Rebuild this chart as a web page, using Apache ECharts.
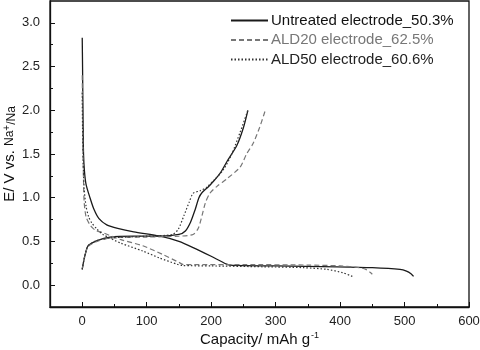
<!DOCTYPE html>
<html>
<head>
<meta charset="utf-8">
<script src="https://cdn.jsdelivr.net/npm/echarts@6/dist/echarts.min.js"></script>
<style>html,body{margin:0;padding:0;background:#fff}#c{width:480px;height:350px}</style>
</head>
<body>
<div id="c"></div>
<script>
var seriesNames = ['Untreated electrode_50.3%', 'ALD20 electrode_62.5%', 'ALD50 electrode_60.6%'];
var xTickLabels = [0, 100, 200, 300, 400, 500, 600];
var xMinorTicks = [50, 150, 250, 350, 450, 550];
var yTickLabels = [0, 0.5, 1.0, 1.5, 2.0, 2.5, 3.0];
var yMinorTicks = [0.25, 0.75, 1.25, 1.75, 2.25, 2.75];

var untreatedDischarge = [[0,2.83],[0.5,2.5],[1,2.1],[1.5,1.8],[2,1.5],[3.5,1.3],[6,1.15],[12,1.0],[18,0.87],[26,0.76],[38,0.69],[55,0.65],[80,0.61],[121,0.56],[150,0.5],[172,0.43],[200,0.33],[224,0.24],[234,0.225],[300,0.22],[395,0.21],[450,0.2],[493,0.18],[503,0.16],[510,0.13],[514,0.1]];
var untreatedCharge = [[0,0.18],[3,0.3],[9,0.45],[23,0.51],[43,0.55],[80,0.56],[121,0.56],[150,0.58],[160,0.62],[168,0.72],[175,0.86],[181,1.0],[186,1.06],[195,1.12],[205,1.2],[214,1.28],[225,1.42],[240,1.6],[250,1.8],[257,2.0]];
var ald20Discharge = [[0,2.4],[0.5,2.0],[1,1.6],[2,1.2],[3,0.95],[6,0.78],[12,0.69],[20,0.63],[32,0.6],[60,0.52],[94,0.45],[125,0.35],[150,0.26],[157,0.235],[170,0.235],[250,0.235],[350,0.23],[400,0.22],[430,0.2],[440,0.18],[446,0.15],[450,0.125]];
var ald20Charge = [[0,0.18],[3,0.3],[9,0.44],[23,0.5],[43,0.54],[100,0.55],[150,0.56],[172,0.58],[180,0.65],[186,0.8],[191,0.94],[198,1.05],[209,1.13],[225,1.22],[245,1.35],[255,1.5],[265,1.62],[275,1.8],[284,2.0]];
var ald50Discharge = [[0,2.2],[0.5,1.8],[1.5,1.4],[3,1.1],[6,0.9],[10,0.78],[15,0.71],[23,0.64],[32,0.58],[60,0.48],[94,0.39],[120,0.31],[147,0.24],[155,0.225],[200,0.22],[280,0.21],[343,0.2],[380,0.18],[405,0.14],[419,0.1]];
var ald50Charge = [[0,0.18],[3,0.3],[9,0.45],[23,0.51],[43,0.54],[100,0.56],[140,0.58],[149,0.64],[158,0.8],[166,0.95],[172,1.05],[183,1.08],[193,1.12],[207,1.22],[219,1.32],[232,1.5],[245,1.75],[257,2.0]];

var styles = [
  {color: '#1a1a1a', width: 1.3, type: 'solid'},
  {color: '#777777', width: 1.2, type: [5, 3]},
  {color: '#333333', width: 1.2, type: [1.5, 2]}
];
var curves = [
  [untreatedDischarge, untreatedCharge],
  [ald20Discharge, ald20Charge],
  [ald50Discharge, ald50Charge]
];
var series = [];
curves.forEach(function (pair, i) {
  pair.forEach(function (d) {
    series.push({
      name: seriesNames[i], type: 'line', data: d, symbol: 'none', smooth: 0.25,
      xAxisIndex: 0, yAxisIndex: 0,
      lineStyle: {color: styles[i].color, width: styles[i].width, type: styles[i].type},
      itemStyle: {color: styles[i].color}, silent: true, animation: false
    });
  });
});

var font = 'Liberation Sans, Arial, sans-serif';
var chart = echarts.init(document.getElementById('c'));
chart.setOption({
  animation: false,
  grid: {left: 50, right: 11, top: 1, bottom: 43, show: true, borderColor: '#111', borderWidth: 1.3,
    containLabel: false, outerBoundsMode: 'none'},
  legend: {
    orient: 'vertical', left: 230, top: 13, padding: 0, itemWidth: 37, itemHeight: 14, itemGap: 4.5,
    itemStyle: {opacity: 0},
    textStyle: {fontFamily: font, fontSize: 15, color: '#111', padding: [0, 0, 0, -2]},
    data: [
      {name: seriesNames[0], textStyle: {color: '#111'}},
      {name: seriesNames[1], textStyle: {color: '#777'}},
      {name: seriesNames[2], textStyle: {color: '#222'}}
    ]
  },
  xAxis: [{
    type: 'value', min: -50, max: 600,
    name: 'Capacity/ mAh g{sup|-1}', nameLocation: 'middle', nameGap: 24, nameMoveOverlap: false,
    nameTextStyle: {fontFamily: font, fontSize: 15, color: '#111',
      rich: {sup: {fontFamily: font, fontSize: 9, color: '#111', verticalAlign: 'top', padding: [0,0,8,1]}}},
    axisLine: {show: true, onZero: false, lineStyle: {color: '#111', width: 1.3}},
    axisTick: {show: true, inside: true, length: 5, customValues: xTickLabels, lineStyle: {color: '#111'}},
    axisLabel: {customValues: xTickLabels, fontFamily: font, fontSize: 13, color: '#222', margin: 8},
    splitLine: {show: false}
  }, {
    type: 'value', min: -50, max: 600, position: 'bottom',
    axisLine: {show: false, onZero: false},
    axisTick: {show: true, inside: true, length: 3, customValues: xMinorTicks, lineStyle: {color: '#111'}},
    axisLabel: {show: false}, splitLine: {show: false}
  }],
  yAxis: [{
    type: 'value', min: -0.25, max: 3.25,
    name: 'E/ V vs. {na|Na}{sup|+}{sub|/Na}', nameLocation: 'middle', nameGap: 32, nameRotate: 90,
    nameMoveOverlap: false,
    nameTextStyle: {fontFamily: font, fontSize: 15, color: '#111',
      rich: {
        na: {fontFamily: font, fontSize: 12, color: '#111'},
        sup: {fontFamily: font, fontSize: 10, color: '#111', verticalAlign: 'top', padding: [0, 0, 6, 0]},
        sub: {fontFamily: font, fontSize: 12, color: '#111', verticalAlign: 'bottom'}
      }},
    axisLine: {show: true, onZero: false, lineStyle: {color: '#111', width: 1.3}},
    axisTick: {show: true, inside: true, length: 5, customValues: yTickLabels, lineStyle: {color: '#111'}},
    axisLabel: {customValues: yTickLabels, fontFamily: font, fontSize: 13, color: '#222', margin: 10,
      formatter: function (v) { return v.toFixed(1); }},
    splitLine: {show: false}
  }, {
    type: 'value', min: -0.25, max: 3.25, position: 'left',
    axisLine: {show: false, onZero: false},
    axisTick: {show: true, inside: true, length: 3, customValues: yMinorTicks, lineStyle: {color: '#111'}},
    axisLabel: {show: false}, splitLine: {show: false}
  }],
  series: series
});
</script>
</body>
</html>
